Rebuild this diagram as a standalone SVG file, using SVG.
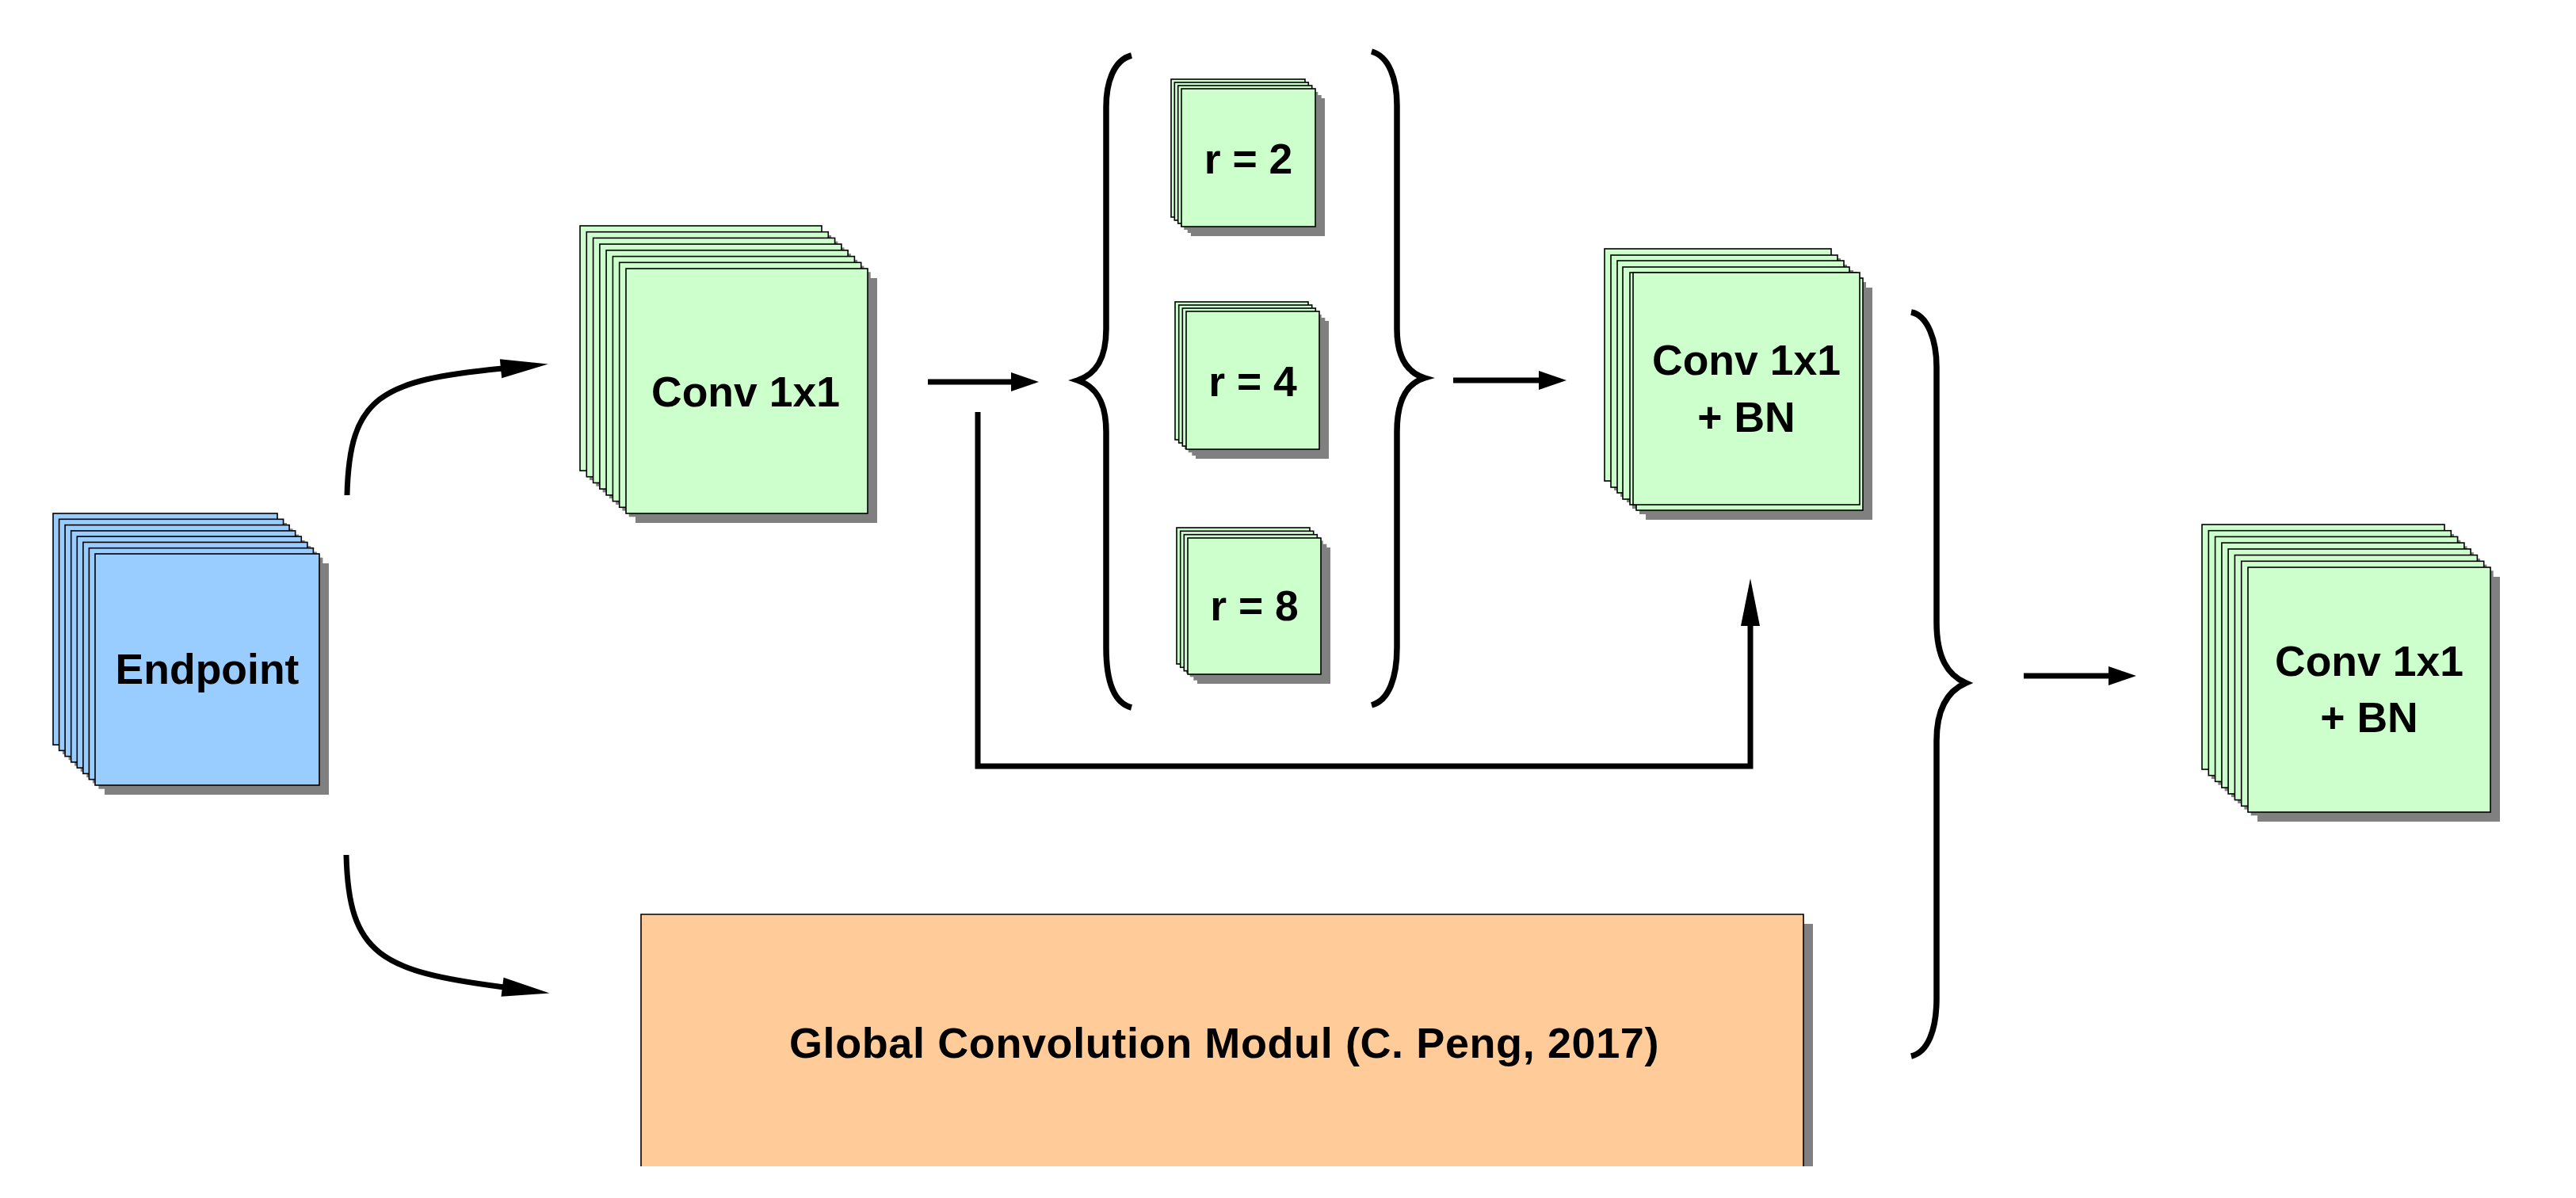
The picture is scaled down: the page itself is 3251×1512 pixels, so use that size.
<svg xmlns="http://www.w3.org/2000/svg" width="3251" height="1512" viewBox="0 0 3251 1512">
<style>
.sh{fill:#808080}
.bl{fill:#99ccff;stroke:#000;stroke-width:1.6}
.gr{fill:#ccffcc;stroke:#000;stroke-width:1.6}
.t{font-family:"Liberation Sans",Arial,Helvetica,sans-serif;font-weight:bold;font-size:53.5px;text-anchor:middle;fill:#000}
.ln{fill:none;stroke:#000;stroke-width:7}
.br{fill:none;stroke:#000;stroke-width:7.5}
</style>
<defs>
<marker id="ah" markerUnits="userSpaceOnUse" markerWidth="36" markerHeight="24" refX="2" refY="12" orient="auto" overflow="visible">
<path d="M0,0 L35,12 L0,24 Z" fill="#000"/>
</marker>
<marker id="ahl" markerUnits="userSpaceOnUse" markerWidth="60" markerHeight="24" refX="2" refY="12" orient="auto" overflow="visible">
<path d="M0,0 L60,12 L0,24 Z" fill="#000"/>
</marker>
<clipPath id="clipGcm"><rect x="0" y="0" width="3251" height="1472"/></clipPath>
</defs>
<rect width="3251" height="1512" fill="#fff"/>

<g id="endpoint">
<rect class="sh" x="79" y="660" width="283" height="292"/><rect class="bl" x="67" y="648" width="283" height="292"/>
<rect class="sh" x="86.6" y="667.3" width="283" height="292"/><rect class="bl" x="74.6" y="655.3" width="283" height="292"/>
<rect class="sh" x="94.1" y="674.6" width="283" height="292"/><rect class="bl" x="82.1" y="662.6" width="283" height="292"/>
<rect class="sh" x="101.7" y="681.9" width="283" height="292"/><rect class="bl" x="89.7" y="669.9" width="283" height="292"/>
<rect class="sh" x="109.3" y="689.1" width="283" height="292"/><rect class="bl" x="97.3" y="677.1" width="283" height="292"/>
<rect class="sh" x="116.9" y="696.4" width="283" height="292"/><rect class="bl" x="104.9" y="684.4" width="283" height="292"/>
<rect class="sh" x="124.4" y="703.7" width="283" height="292"/><rect class="bl" x="112.4" y="691.7" width="283" height="292"/>
<rect class="sh" x="132" y="711" width="283" height="292"/><rect class="bl" x="120" y="699" width="283" height="292"/>
<text class="t" x="261.5" y="863">Endpoint</text>
</g>

<g id="conv1">
<rect class="sh" x="744" y="297" width="305" height="309"/><rect class="gr" x="732" y="285" width="305" height="309"/>
<rect class="sh" x="752.3" y="304.7" width="305" height="309"/><rect class="gr" x="740.3" y="292.7" width="305" height="309"/>
<rect class="sh" x="760.6" y="312.4" width="305" height="309"/><rect class="gr" x="748.6" y="300.4" width="305" height="309"/>
<rect class="sh" x="768.9" y="320.1" width="305" height="309"/><rect class="gr" x="756.9" y="308.1" width="305" height="309"/>
<rect class="sh" x="777.1" y="327.9" width="305" height="309"/><rect class="gr" x="765.1" y="315.9" width="305" height="309"/>
<rect class="sh" x="785.4" y="335.6" width="305" height="309"/><rect class="gr" x="773.4" y="323.6" width="305" height="309"/>
<rect class="sh" x="793.7" y="343.3" width="305" height="309"/><rect class="gr" x="781.7" y="331.3" width="305" height="309"/>
<rect class="sh" x="802" y="351" width="305" height="309"/><rect class="gr" x="790" y="339" width="305" height="309"/>
<text class="t" x="941" y="513">Conv 1x1</text>
</g>

<g id="r2">
<rect class="sh" x="1490" y="112" width="169" height="174"/><rect class="gr" x="1478" y="100" width="169" height="174"/>
<rect class="sh" x="1494.3" y="116" width="169" height="174"/><rect class="gr" x="1482.3" y="104" width="169" height="174"/>
<rect class="sh" x="1498.7" y="120" width="169" height="174"/><rect class="gr" x="1486.7" y="108" width="169" height="174"/>
<rect class="sh" x="1503" y="124" width="169" height="174"/><rect class="gr" x="1491" y="112" width="169" height="174"/>
<text class="t" x="1575.5" y="219">r = 2</text>
</g>

<g id="r4">
<rect class="sh" x="1495" y="393" width="168" height="174"/><rect class="gr" x="1483" y="381" width="168" height="174"/>
<rect class="sh" x="1499.7" y="397" width="168" height="174"/><rect class="gr" x="1487.7" y="385" width="168" height="174"/>
<rect class="sh" x="1504.3" y="401" width="168" height="174"/><rect class="gr" x="1492.3" y="389" width="168" height="174"/>
<rect class="sh" x="1509" y="405" width="168" height="174"/><rect class="gr" x="1497" y="393" width="168" height="174"/>
<text class="t" x="1581" y="500">r = 4</text>
</g>

<g id="r8">
<rect class="sh" x="1497" y="678" width="168" height="172"/><rect class="gr" x="1485" y="666" width="168" height="172"/>
<rect class="sh" x="1501.7" y="682.3" width="168" height="172"/><rect class="gr" x="1489.7" y="670.3" width="168" height="172"/>
<rect class="sh" x="1506.3" y="686.7" width="168" height="172"/><rect class="gr" x="1494.3" y="674.7" width="168" height="172"/>
<rect class="sh" x="1511" y="691" width="168" height="172"/><rect class="gr" x="1499" y="679" width="168" height="172"/>
<text class="t" x="1583" y="783">r = 8</text>
</g>

<g id="convbn1">
<rect class="sh" x="2037" y="326" width="286" height="293"/><rect class="gr" x="2025" y="314" width="286" height="293"/>
<rect class="sh" x="2045" y="334" width="286" height="293"/><rect class="gr" x="2033" y="322" width="286" height="293"/>
<rect class="sh" x="2053" y="341" width="286" height="293"/><rect class="gr" x="2041" y="329" width="286" height="293"/>
<rect class="sh" x="2060" y="349" width="286" height="293"/><rect class="gr" x="2048" y="337" width="286" height="293"/>
<rect class="sh" x="2069" y="356" width="286" height="293"/><rect class="gr" x="2057" y="344" width="286" height="293"/>
<rect class="sh" x="2077" y="363" width="286" height="293"/><rect class="gr" x="2065" y="351" width="286" height="293"/>
<rect class="gr" x="2061" y="344" width="286" height="293"/>
<text class="t" x="2204" y="473">Conv 1x1</text>
<text class="t" x="2204" y="545">+ BN</text>
</g>

<g id="convbn2">
<rect class="sh" x="2791" y="674" width="306" height="309"/><rect class="gr" x="2779" y="662" width="306" height="309"/>
<rect class="sh" x="2799.3" y="681.7" width="306" height="309"/><rect class="gr" x="2787.3" y="669.7" width="306" height="309"/>
<rect class="sh" x="2807.6" y="689.4" width="306" height="309"/><rect class="gr" x="2795.6" y="677.4" width="306" height="309"/>
<rect class="sh" x="2815.9" y="697.1" width="306" height="309"/><rect class="gr" x="2803.9" y="685.1" width="306" height="309"/>
<rect class="sh" x="2824.1" y="704.9" width="306" height="309"/><rect class="gr" x="2812.1" y="692.9" width="306" height="309"/>
<rect class="sh" x="2832.4" y="712.6" width="306" height="309"/><rect class="gr" x="2820.4" y="700.6" width="306" height="309"/>
<rect class="sh" x="2840.7" y="720.3" width="306" height="309"/><rect class="gr" x="2828.7" y="708.3" width="306" height="309"/>
<rect class="sh" x="2849" y="728" width="306" height="309"/><rect class="gr" x="2837" y="716" width="306" height="309"/>
<text class="t" x="2990" y="853">Conv 1x1</text>
<text class="t" x="2990" y="924">+ BN</text>
</g>

<g id="gcm" clip-path="url(#clipGcm)">
<rect class="sh" x="821" y="1166" width="1467" height="330"/>
<rect x="809" y="1154" width="1467" height="340" fill="#ffcc99"/>
<path d="M809,1494 V1154 H2276 V1494" fill="none" stroke="#000" stroke-width="1.6"/>
<text class="t" x="1545" y="1335" style="font-size:54px;letter-spacing:0.6px">Global Convolution Modul (C. Peng, 2017)</text>
</g>

<g id="braces">
<path class="br" d="M1428,70 C1405,76 1396,105 1396,135 L1396,415 C1396,452 1384,472 1360,480 C1384,488 1396,508 1396,545 L1396,817 C1396,858 1405,887 1428,893"/>
<path class="br" d="M1731,65 C1753,71 1763,100 1763,133 L1763,415 C1763,450 1775,470 1798,477 C1775,484 1763,505 1763,545 L1763,817 C1763,855 1753,884 1731,890"/>
<path class="br" d="M2412,394 C2433,398 2444,430 2444,463 L2444,785 C2444,830 2458,852 2481,862 C2458,872 2444,895 2444,935 L2444,1260 C2444,1300 2433,1328 2412,1333"/>
</g>

<g id="connectors">
<path class="ln" d="M438,625 C441,500 480,480 634,465" marker-end="url(#ahl)"/>
<path class="ln" d="M437,1079 C440,1205 480,1226 636,1246" marker-end="url(#ahl)"/>
<path class="ln" d="M1171,482 L1278,482" marker-end="url(#ah)"/>
<path class="ln" d="M1834,480 L1944,480" marker-end="url(#ah)"/>
<path class="ln" d="M1234,520 V967 H2209 V788" marker-end="url(#ahl)"/>
<path class="ln" d="M2554,853 L2663,853" marker-end="url(#ah)"/>
</g>
</svg>
